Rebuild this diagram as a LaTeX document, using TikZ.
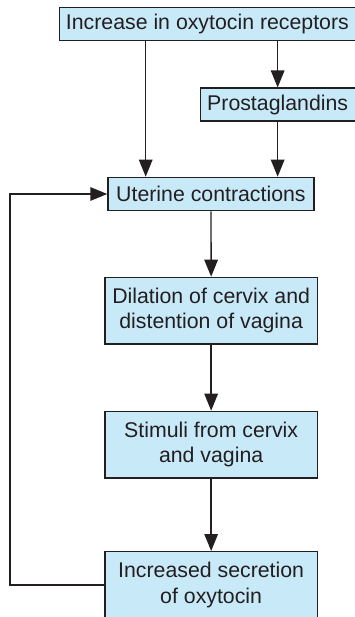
\documentclass[tikz,border=0pt]{standalone}
\usepackage{fontspec}
\setmainfont{Liberation Sans}
\usetikzlibrary{arrows.meta}
\definecolor{boxfill}{HTML}{C8E9F8}
\definecolor{ink}{HTML}{231F20}
\tikzset{
  box/.style={draw=ink, fill=boxfill, line width=1.3pt, anchor=north west, inner sep=0pt,
    text=ink, align=center, font=\fontsize{21.3}{25.3}\selectfont},
  tip/.style={-{Triangle[length=17pt,width=13.5pt]}},
  arr/.style={draw=ink, line width=1.4pt, tip},
  lin/.style={draw=ink, line width=1.4pt}
}
\begin{document}
\begin{tikzpicture}[x=1pt,y=-1pt]
\useasboundingbox (0,0) rectangle (355,617);
\node[box, minimum width=295.5pt, minimum height=33pt] (inc) at (59,7) {Increase in oxytocin receptors};
\node[box, minimum width=155pt, minimum height=33pt] (pro) at (199.5,87.5) {Prostaglandins};
\node[box, minimum width=206pt, minimum height=33.3pt] (ut) at (107.3,176.7) {Uterine contractions};
\node[box, minimum width=212.4pt, minimum height=66.6pt] (dil) at (104.3,276.7) {Dilation of cervix and\\distention of vagina};
\node[box, minimum width=212.4pt, minimum height=66.6pt] (sti) at (104.3,410.7) {Stimuli from cervix\\and vagina};
\node[box, minimum width=212.4pt, minimum height=66.6pt] (sec) at (104.3,551) {Increased secretion\\of oxytocin};
\coordinate (cx) at (145.7,0);
\coordinate (fb) at (10,0);
\draw[arr] (inc.south -| cx) -- (ut.north -| cx);
\draw[arr] (inc.south -| pro) -- (pro.north);
\draw[arr] (pro.south) -- (ut.north -| pro);
\draw[arr] (ut.south) -- (dil.north);
\draw[arr] (dil.south) -- (sti.north);
\draw[arr] (sti.south) -- (sec.north);
\draw[arr] (sec.west) -- (sec.west -| fb) |- (ut.west);
\end{tikzpicture}
\end{document}
